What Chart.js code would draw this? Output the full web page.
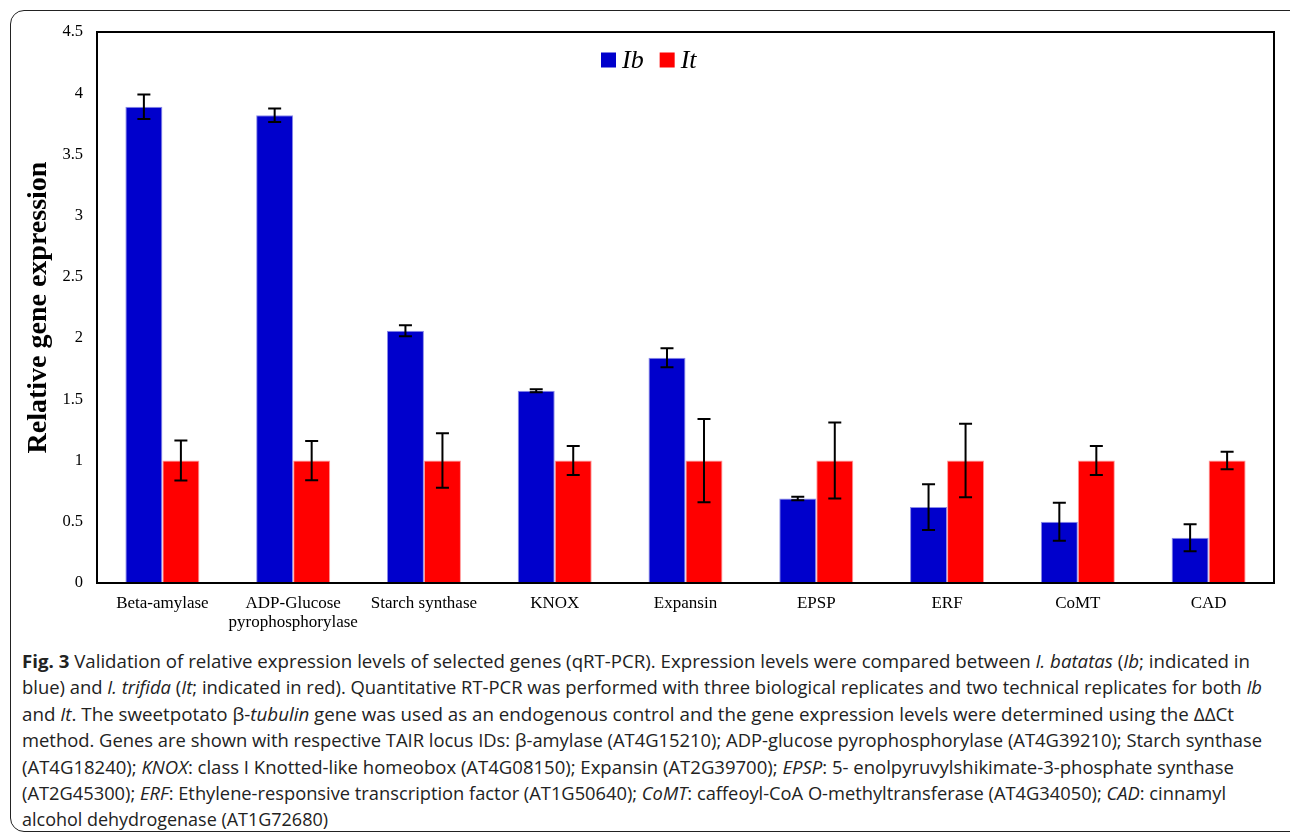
<!DOCTYPE html>
<html>
<head>
<meta charset="utf-8">
<script src="https://cdn.jsdelivr.net/npm/chart.js@4.4.1/dist/chart.umd.min.js"></script>
<style>
  html, body { margin: 0; padding: 0; background: #fff; }
  body { width: 1290px; height: 835px; position: relative; overflow: hidden; }
  #frame {
    position: absolute; left: 10px; top: 10px; width: 1320px; height: 822px;
    border: 1.5px solid #222; border-radius: 14px; box-sizing: border-box;
  }
  #wrap { position: absolute; left: 0; top: 0; width: 1290px; height: 640px; }
  #caption {
    position: absolute; left: 22px; top: 648px;
    font-family: "Open Sans", "Noto Sans", sans-serif; font-size: 18.5px;
    line-height: 26.4px; color: #222;
  }
  #caption div { white-space: nowrap; }
  #caption span { display: inline-block; transform-origin: 0 50%; }
  #caption b { font-weight: 700; }
</style>
</head>
<body>
<div id="frame"></div>
<div id="wrap"><canvas id="c" width="1290" height="640"></canvas></div>
<div id="caption">
  <div><span data-w="1228"><b>Fig. 3</b> Validation of relative expression levels of selected genes (qRT-PCR). Expression levels were compared between <i>I. batatas</i> (<i>Ib</i>; indicated in</span></div>
  <div><span data-w="1240">blue) and <i>I. trifida</i> (<i>It</i>; indicated in red). Quantitative RT-PCR was performed with three biological replicates and two technical replicates for both <i>Ib</i></span></div>
  <div><span data-w="1212">and <i>It</i>. The sweetpotato β-<i>tubulin</i> gene was used as an endogenous control and the gene expression levels were determined using the ΔΔCt</span></div>
  <div><span data-w="1240">method. Genes are shown with respective TAIR locus IDs: β-amylase (AT4G15210); ADP-glucose pyrophosphorylase (AT4G39210); Starch synthase</span></div>
  <div><span data-w="1212">(AT4G18240); <i>KNOX</i>: class I Knotted-like homeobox (AT4G08150); Expansin (AT2G39700); <i>EPSP</i>: 5- enolpyruvylshikimate-3-phosphate synthase</span></div>
  <div><span data-w="1204">(AT2G45300); <i>ERF</i>: Ethylene-responsive transcription factor (AT1G50640); <i>CoMT</i>: caffeoyl-CoA O-methyltransferase (AT4G34050); <i>CAD</i>: cinnamyl</span></div>
  <div><span data-w="306">alcohol dehydrogenase (AT1G72680)</span></div>
</div>
<script>
// Fit each caption line to its column width
document.querySelectorAll('#caption span[data-w]').forEach(s => {
  const w = s.getBoundingClientRect().width;
  s.style.transform = 'scaleX(' + (Number(s.dataset.w) / w) + ')';
});

// Gene categories on the x axis
const genes = [
  'Beta-amylase', ['ADP-Glucose', 'pyrophosphorylase'], 'Starch synthase', 'KNOX',
  'Expansin', 'EPSP', 'ERF', 'CoMT', 'CAD'
];
// Relative expression, I. batatas (Ib)
const ibValues = [3.89, 3.82, 2.06, 1.57, 1.84, 0.69, 0.62, 0.50, 0.37];
const ibErrors = [0.10, 0.055, 0.045, 0.012, 0.077, 0.015, 0.187, 0.155, 0.11];
// Relative expression, I. trifida (It)
const itValues = [1, 1, 1, 1, 1, 1, 1, 1, 1];
const itErrors = [0.163, 0.16, 0.222, 0.118, 0.34, 0.31, 0.30, 0.118, 0.072];
// Y axis range
const yMin = 0, yMax = 4.5, yStep = 0.5;

const serif = '"Liberation Serif", "Times New Roman", serif';

// Error bars drawn through the value scale
const errorBars = {
  id: 'errorBars',
  afterDatasetsDraw(chart) {
    const { ctx, scales: { y } } = chart;
    ctx.save();
    ctx.strokeStyle = '#000';
    ctx.lineWidth = 2;
    chart.data.datasets.forEach((ds, di) => {
      const meta = chart.getDatasetMeta(di);
      meta.data.forEach((bar, i) => {
        const v = ds.data[i], e = ds.errors[i];
        const yt = y.getPixelForValue(v + e), yb = y.getPixelForValue(v - e);
        const x = bar.x, w = 6.5;
        ctx.beginPath();
        ctx.moveTo(x, yt); ctx.lineTo(x, yb);
        ctx.moveTo(x - w, yt); ctx.lineTo(x + w, yt);
        ctx.moveTo(x - w, yb); ctx.lineTo(x + w, yb);
        ctx.stroke();
      });
    });
    ctx.restore();
  }
};

// Box around the plotting area
const plotBox = {
  id: 'plotBox',
  afterDraw(chart) {
    const { ctx, chartArea: a } = chart;
    ctx.save();
    ctx.strokeStyle = '#000';
    ctx.lineWidth = 2;
    ctx.strokeRect(a.left, a.top, a.right - a.left, a.bottom - a.top);
    ctx.restore();
  }
};

// Legend placed inside the plotting area
const innerLegend = {
  id: 'innerLegend',
  afterDraw(chart) {
    const { ctx, chartArea: a } = chart;
    ctx.save();
    ctx.font = 'italic 26px ' + serif;
    ctx.textBaseline = 'middle';
    let x = a.left + 504;
    const yc = a.top + 28;
    chart.data.datasets.forEach(ds => {
      ctx.fillStyle = ds.backgroundColor;
      ctx.fillRect(x, yc - 7.5, 15, 15);
      x += 21;
      ctx.fillStyle = '#000';
      ctx.fillText(ds.label, x, yc + 1);
      x += ctx.measureText(ds.label).width + 16;
    });
    ctx.restore();
  }
};

new Chart(document.getElementById('c'), {
  type: 'bar',
  data: {
    labels: genes,
    datasets: [
      { label: 'Ib', data: ibValues, errors: ibErrors, backgroundColor: '#0000CC',
        borderColor: '#8c8ce8', borderWidth: 1 },
      { label: 'It', data: itValues, errors: itErrors, backgroundColor: '#FF0000',
        borderColor: '#ff9a9a', borderWidth: 1 }
    ]
  },
  options: {
    responsive: false,
    animation: false,
    events: [],
    categoryPercentage: 0.566,
    barPercentage: 1.0,
    layout: { padding: { left: 0, top: 32, right: 16, bottom: 0 } },
    plugins: { legend: { display: false }, tooltip: { enabled: false } },
    scales: {
      y: {
        min: yMin, max: yMax,
        ticks: { stepSize: yStep, color: '#000', padding: 14,
                 font: { family: serif, size: 16.5 },
                 callback: v => String(v) },
        grid: { display: false, drawTicks: false },
        border: { display: true, color: '#000', width: 2 },
        title: { display: true, text: 'Relative gene expression', color: '#000',
                 padding: { top: 22, bottom: 0 },
                 font: { family: serif, size: 28, weight: 'bold' } },
        afterFit(s) { s.width = 97; }
      },
      x: {
        ticks: { color: '#000', padding: 11, maxRotation: 0, autoSkip: false,
                 font: { family: serif, size: 17, lineHeight: 1.1 } },
        grid: { display: false, drawTicks: false },
        border: { display: true, color: '#000', width: 2 },
        afterFit(s) { s.height = 57; }
      }
    }
  },
  plugins: [errorBars, plotBox, innerLegend]
});
</script>
</body>
</html>
